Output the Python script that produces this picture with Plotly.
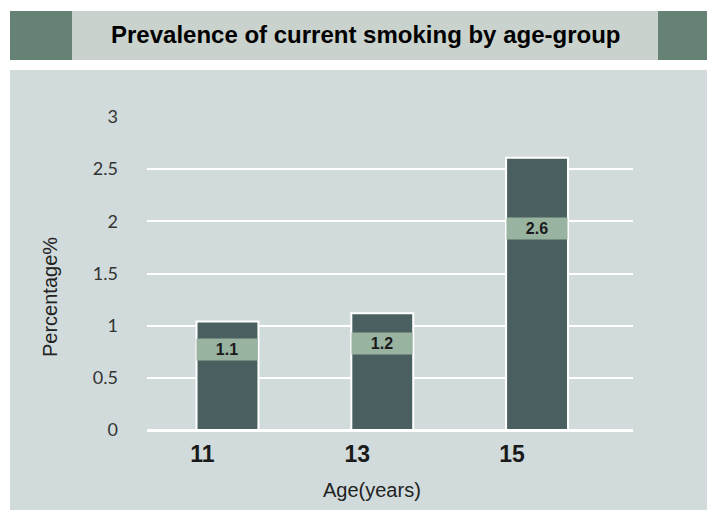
import plotly.graph_objects as go

ages = ["11", "13", "15"]
bar_values = [1.04, 1.12, 2.61]
label_texts = ["1.1", "1.2", "2.6"]
y_ticks = [0, 0.5, 1, 1.5, 2, 2.5, 3]
y_tick_text = ["0", "0.5", "1", "1.5", "2", "2.5", "3"]

BAR = "#4a5f5f"
LABEL_BG = "#98b3a0"
PANEL = "#d1dbdb"
BAND = "#c9d2cc"
BLOCK = "#658275"

W, H = 707, 515
L, R, T, B = 147, 74, 117, 85
pw, ph = W - L - R, H - T - B

def px(x):
    return (x - L) / pw

def py(y):
    return (H - B - y) / ph

fig = go.Figure()
fig.add_trace(go.Bar(
    x=ages, y=bar_values,
    marker=dict(color=BAR, line=dict(color="white", width=2)),
    width=0.4, hoverinfo="skip", showlegend=False,
))

for i, (v, t) in enumerate(zip(bar_values, label_texts)):
    fig.add_annotation(
        x=i, y=v * 0.74, xref="x", yref="y", text="<b>%s</b>" % t,
        showarrow=False, bgcolor=LABEL_BG, width=58, height=19,
        font=dict(family="Liberation Sans, Arial", size=16, color="#1a1a1a"),
    )

shapes = [
    dict(type="rect", xref="paper", yref="paper", x0=px(10), x1=px(707), y0=py(510), y1=py(70),
         fillcolor=PANEL, line=dict(width=0), layer="below"),
    dict(type="rect", xref="paper", yref="paper", x0=px(10), x1=px(72), y0=py(60), y1=py(11),
         fillcolor=BLOCK, line=dict(width=0), layer="below"),
    dict(type="rect", xref="paper", yref="paper", x0=px(72), x1=px(658), y0=py(60), y1=py(11),
         fillcolor=BAND, line=dict(width=0), layer="below"),
    dict(type="rect", xref="paper", yref="paper", x0=px(658), x1=px(707), y0=py(60), y1=py(11),
         fillcolor=BLOCK, line=dict(width=0), layer="below"),
]

fig.add_annotation(
    x=px(365), y=py(35), xref="paper", yref="paper", xanchor="center", yanchor="middle",
    text="<b>Prevalence of current smoking by age-group</b>", showarrow=False,
    font=dict(family="Liberation Sans, Arial", size=24, color="#000000"),
)
fig.add_annotation(
    x=px(372), y=py(490), xref="paper", yref="paper", xanchor="center", yanchor="middle",
    text="Age(years)", showarrow=False,
    font=dict(family="Liberation Sans, Arial", size=20, color="#222"),
)
fig.add_annotation(
    x=px(50), y=py(297), xref="paper", yref="paper", xanchor="center", yanchor="middle",
    text="Percentage%", showarrow=False, textangle=-90,
    font=dict(family="Liberation Sans, Arial", size=20, color="#222"),
)

fig.update_layout(
    width=W, height=H,
    margin=dict(l=L, r=R, t=T, b=B, autoexpand=False),
    paper_bgcolor="white", plot_bgcolor="rgba(0,0,0,0)",
    shapes=shapes,
    xaxis=dict(
        type="category", range=[-0.52, 2.62], showgrid=False, zeroline=False, showline=False,
        ticks="", tickfont=dict(family="Liberation Sans, Arial", size=23, color="#1a1a1a", weight="bold"),
        ticklabelshift=-25, ticklabelstandoff=8,
    ),
    yaxis=dict(
        range=[0, 3], tickvals=y_ticks, ticktext=y_tick_text,
        showgrid=True, gridcolor="white", gridwidth=1.5,
        zeroline=True, zerolinecolor="white", zerolinewidth=3,
        showline=False, ticks="", ticklabelstandoff=28,
        tickfont=dict(family="Lato, Carlito, sans-serif", size=18, color="#333"),
    ),
)

fig.write_html("out.html", config={"displayModeBar": False},
               post_script="document.body.style.margin='0';")
